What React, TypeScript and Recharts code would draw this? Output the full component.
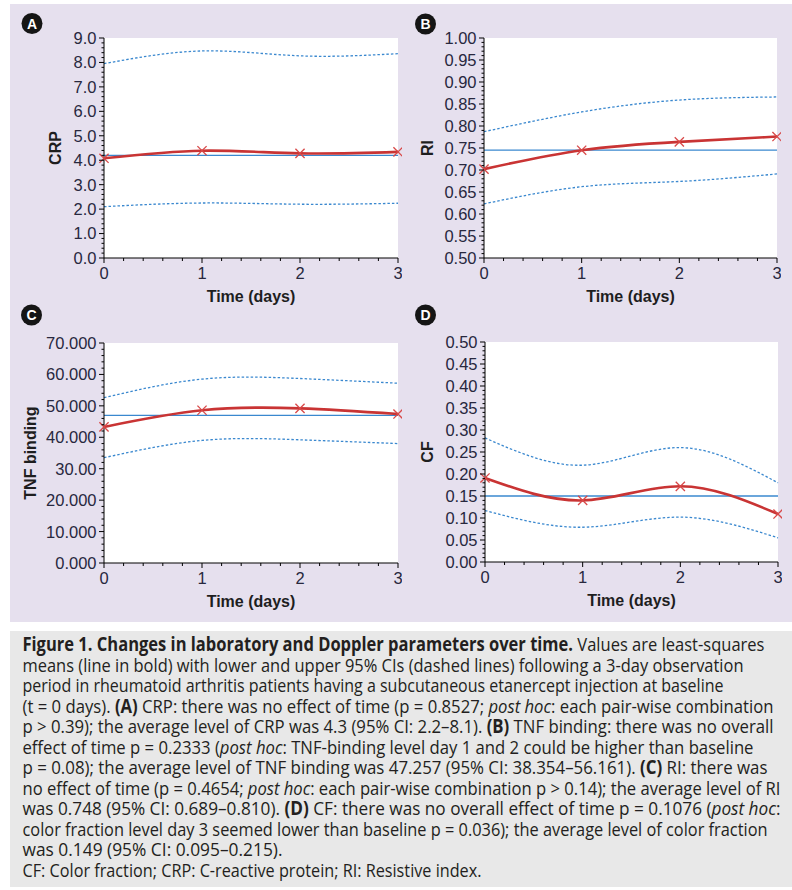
import React from 'react';
import { LineChart, Line, XAxis, YAxis, ReferenceLine, CartesianGrid, Label } from 'recharts';

// ---------- data ----------
const DAYS = [0, 1, 2, 3];
const X_MAJOR = [0, 1, 2, 3];
const X_LABELS = ['0', '1', '2', '3'];

const CRP_MEAN = [4.08, 4.39, 4.28, 4.34];
const CRP_UPPER = [7.95, 8.47, 8.27, 8.36];
const CRP_LOWER = [2.1, 2.25, 2.2, 2.24];
const CRP_AVG = 4.2;
const CRP_Y_MAJOR = [0, 1, 2, 3, 4, 5, 6, 7, 8, 9];
const CRP_Y_LABELS = ['0.0', '1.0', '2.0', '3.0', '4.0', '5.0', '6.0', '7.0', '8.0', '9.0'];

const RI_MEAN = [0.702, 0.745, 0.764, 0.776];
const RI_UPPER = [0.787, 0.832, 0.859, 0.866];
const RI_LOWER = [0.623, 0.662, 0.674, 0.691];
const RI_AVG = 0.745;
const RI_Y_MAJOR = [0.5, 0.55, 0.6, 0.65, 0.7, 0.75, 0.8, 0.85, 0.9, 0.95, 1.0];
const RI_Y_LABELS = ['0.50', '0.55', '0.60', '0.65', '0.70', '0.75', '0.80', '0.85', '0.90', '0.95', '1.00'];

const TNF_MEAN = [43.3, 48.6, 49.2, 47.4];
const TNF_UPPER = [52.6, 58.5, 58.7, 57.2];
const TNF_LOWER = [33.5, 39.0, 39.2, 38.0];
const TNF_AVG = 47.0;
const TNF_Y_MAJOR = [0, 10, 20, 30, 40, 50, 60, 70];
const TNF_Y_LABELS = ['0.000', '10.000', '20.000', '30.00', '40.000', '50.000', '60.000', '70.000'];

const CF_MEAN = [0.191, 0.14, 0.172, 0.109];
const CF_UPPER = [0.282, 0.22, 0.26, 0.18];
const CF_LOWER = [0.117, 0.079, 0.102, 0.055];
const CF_AVG = 0.15;
const CF_Y_MAJOR = [0, 0.05, 0.1, 0.15, 0.2, 0.25, 0.3, 0.35, 0.4, 0.45, 0.5];
const CF_Y_LABELS = ['0.00', '0.05', '0.10', '0.15', '0.20', '0.25', '0.30', '0.35', '0.40', '0.45', '0.50'];

// ---------- styling / layout ----------
const FONT = '"Liberation Sans", Arial, Helvetica, sans-serif';
const TICK_COLOR = '#28283e';
const RED = '#c93434';
const MARK_RED = '#d84848';
const BLUE = '#3a88cf';
const TICK_SIZE = 5;
const TICK_MARGIN = 2;
const PAD_L = 100;
const PAD_T = 30;
const PAD_R = 4;
const PAD_B = 50;

function minorTicks(min: number, max: number, step: number): number[] {
  const n = Math.round((max - min) / step);
  const out: number[] = [];
  for (let i = 0; i <= n; i++) out.push(+(min + i * step).toFixed(6));
  return out;
}

function findMajor(v: number, majors: number[]) {
  return majors.findIndex((m) => Math.abs(m - v) < 1e-6);
}

const XMark = (props: any) => {
  const { cx, cy } = props;
  if (cx == null || cy == null) return null;
  const s = 4.6;
  return (
    <g>
      <line x1={cx - s} y1={cy - s} x2={cx + s} y2={cy + s} stroke={MARK_RED} strokeWidth={1.3} />
      <line x1={cx - s} y1={cy + s} x2={cx + s} y2={cy - s} stroke={MARK_RED} strokeWidth={1.3} />
    </g>
  );
};

const makeYTick = (majors: number[], labels: string[]) => (props: any) => {
  const { x, y, payload } = props;
  const idx = findMajor(payload.value, majors);
  const axisX = x + TICK_SIZE + TICK_MARGIN;
  const major = idx >= 0;
  return (
    <g>
      <line x1={axisX - (major ? 5 : 2.5)} x2={axisX} y1={y} y2={y} stroke="#000" strokeWidth={1} />
      {major && (
        <text x={x - 0.5} y={y} dy="0.36em" textAnchor="end" fontSize={16.5} fontFamily={FONT} fill={TICK_COLOR}>
          {labels[idx]}
        </text>
      )}
    </g>
  );
};

const XTick = (props: any) => {
  const { x, y, payload } = props;
  const idx = findMajor(payload.value, X_MAJOR);
  const axisY = y - TICK_SIZE - TICK_MARGIN;
  const major = idx >= 0;
  return (
    <g>
      <line x1={x} x2={x} y1={axisY} y2={axisY + (major ? 5 : 3)} stroke="#000" strokeWidth={1} />
      {major && (
        <text x={x} y={axisY + 21} textAnchor="middle" fontSize={16.5} fontFamily={FONT} fill={TICK_COLOR}>
          {X_LABELS[idx]}
        </text>
      )}
    </g>
  );
};

type Panel = {
  letter: string;
  yLabel: string;
  mean: number[];
  upper: number[];
  lower: number[];
  avg: number;
  yMajor: number[];
  yLabels: string[];
  minorStep: number;
  L: number;
  R: number;
  T: number;
  B: number;
  yLabelX: number;
  cx: number;
  cy: number;
};

const PANELS: Panel[] = [
  { letter: 'A', yLabel: 'CRP', mean: CRP_MEAN, upper: CRP_UPPER, lower: CRP_LOWER, avg: CRP_AVG, yMajor: CRP_Y_MAJOR, yLabels: CRP_Y_LABELS, minorStep: 0.2, L: 104, R: 398, T: 38, B: 258, yLabelX: 55, cx: 32, cy: 23.5 },
  { letter: 'B', yLabel: 'RI', mean: RI_MEAN, upper: RI_UPPER, lower: RI_LOWER, avg: RI_AVG, yMajor: RI_Y_MAJOR, yLabels: RI_Y_LABELS, minorStep: 0.01, L: 484, R: 777, T: 38, B: 258, yLabelX: 427, cx: 425.5, cy: 24 },
  { letter: 'C', yLabel: 'TNF binding', mean: TNF_MEAN, upper: TNF_UPPER, lower: TNF_LOWER, avg: TNF_AVG, yMajor: TNF_Y_MAJOR, yLabels: TNF_Y_LABELS, minorStep: 2, L: 104, R: 398, T: 343, B: 563, yLabelX: 30.5, cx: 31.5, cy: 315 },
  { letter: 'D', yLabel: 'CF', mean: CF_MEAN, upper: CF_UPPER, lower: CF_LOWER, avg: CF_AVG, yMajor: CF_Y_MAJOR, yLabels: CF_Y_LABELS, minorStep: 0.01, L: 485, R: 778, T: 342, B: 562, yLabelX: 427, cx: 425.5, cy: 315 },
];

const X_TICKS = minorTicks(0, 3, 0.2);

const PanelChart = ({ p }: { p: Panel }) => {
  const data = DAYS.map((d, i) => ({ day: d, mean: p.mean[i], upper: p.upper[i], lower: p.lower[i] }));
  const w = p.R - p.L + PAD_L + PAD_R;
  const h = p.B - p.T + PAD_T + PAD_B;
  const yMin = p.yMajor[0];
  const yMax = p.yMajor[p.yMajor.length - 1];
  const yTicks = minorTicks(yMin, yMax, p.minorStep);
  const plotW = p.R - p.L;
  const plotH = p.B - p.T;
  const ylx = PAD_L - (p.L - p.yLabelX);
  const yly = PAD_T + plotH / 2;
  return (
    <div style={{ position: 'absolute', left: p.L - PAD_L, top: p.T - PAD_T, width: w, height: h }}>
      <LineChart width={w} height={h} data={data} margin={{ top: PAD_T, right: PAD_R, left: 0, bottom: 0 }}>
        <CartesianGrid horizontal={false} vertical={false} stroke="none" fill="#ffffff" />
        <XAxis
          dataKey="day"
          type="number"
          domain={[0, 3]}
          ticks={X_TICKS}
          interval={0}
          height={PAD_B}
          tickSize={TICK_SIZE}
          tickMargin={TICK_MARGIN}
          tickLine={false}
          axisLine={{ stroke: '#000', strokeWidth: 1 }}
          tick={XTick}
          allowDecimals
        >
          <Label
            content={() => (
              <text x={PAD_L + plotW / 2} y={PAD_T + plotH + 44} textAnchor="middle" fontSize={16} fontWeight={700} fontFamily={FONT} fill="#1e1e1e">
                Time (days)
              </text>
            )}
          />
        </XAxis>
        <YAxis
          type="number"
          domain={[yMin, yMax]}
          ticks={yTicks}
          interval={0}
          width={PAD_L}
          tickSize={TICK_SIZE}
          tickMargin={TICK_MARGIN}
          tickLine={false}
          axisLine={{ stroke: '#000', strokeWidth: 1 }}
          tick={makeYTick(p.yMajor, p.yLabels)}
          allowDataOverflow
        >
          <Label
            content={() => (
              <text
                x={ylx}
                y={yly}
                dy="0.36em"
                transform={`rotate(-90 ${ylx} ${yly})`}
                textAnchor="middle"
                fontSize={16}
                fontWeight={700}
                fontFamily={FONT}
                fill="#1e1e1e"
              >
                {p.yLabel}
              </text>
            )}
          />
        </YAxis>
        <ReferenceLine y={p.avg} stroke={BLUE} strokeWidth={1.3} ifOverflow="extendDomain" />
        <Line type="natural" dataKey="upper" stroke={BLUE} strokeWidth={1.3} strokeDasharray="2.5 2" dot={false} isAnimationActive={false} />
        <Line type="natural" dataKey="lower" stroke={BLUE} strokeWidth={1.3} strokeDasharray="2.5 2" dot={false} isAnimationActive={false} />
        <Line type="natural" dataKey="mean" stroke={RED} strokeWidth={2.6} dot={<XMark />} activeDot={false} isAnimationActive={false} />
      </LineChart>
    </div>
  );
};

// ---------- caption ----------
type Seg = { t: string; b?: boolean; i?: boolean };
const CAPTION_LINES: Seg[][] = [
  [{ t: 'Figure 1. Changes in laboratory and Doppler parameters over time.', b: true }, { t: ' Values are least-squares' }],
  [{ t: 'means (line in bold) with lower and upper 95% CIs (dashed lines) following a 3-day observation' }],
  [{ t: 'period in rheumatoid arthritis patients having a subcutaneous etanercept injection at baseline' }],
  [{ t: '(t = 0 days). ' }, { t: '(A)', b: true }, { t: ' CRP: there was no effect of time (p = 0.8527; ' }, { t: 'post hoc', i: true }, { t: ': each pair-wise combination' }],
  [{ t: 'p > 0.39); the average level of CRP was 4.3 (95% CI: 2.2–8.1). ' }, { t: '(B)', b: true }, { t: ' TNF binding: there was no overall' }],
  [{ t: 'effect of time p = 0.2333 (' }, { t: 'post hoc', i: true }, { t: ': TNF-binding level day 1 and 2 could be higher than baseline' }],
  [{ t: 'p = 0.08); the average level of TNF binding was 47.257 (95% CI: 38.354–56.161). ' }, { t: '(C)', b: true }, { t: ' RI: there was' }],
  [{ t: 'no effect of time (p = 0.4654; ' }, { t: 'post hoc', i: true }, { t: ': each pair-wise combination p > 0.14); the average level of RI' }],
  [{ t: 'was 0.748 (95% CI: 0.689–0.810). ' }, { t: '(D)', b: true }, { t: ' CF: there was no overall effect of time p = 0.1076 (' }, { t: 'post hoc', i: true }, { t: ':' }],
  [{ t: 'color fraction level day 3 seemed lower than baseline p = 0.036); the average level of color fraction' }],
  [{ t: 'was 0.149 (95% CI: 0.095–0.215).' }],
  [{ t: 'CF: Color fraction; CRP: C-reactive protein; RI: Resistive index.' }],
];
const CAPTION_WIDTHS = [742, 721, 701, 751, 751, 731, 745, 758, 758, 745, 260, 459];

const CAP_FONT = '"Open Sans", "Noto Sans", sans-serif';

export default function App() {
  return (
    <div style={{ position: 'absolute', left: 0, top: 0, width: 792, height: 890, background: '#ffffff', overflow: 'hidden' }}>
      <div style={{ position: 'absolute', left: 10, top: 4, width: 782, height: 618, background: '#e6e0ee' }} />
      <div style={{ position: 'absolute', left: 10, top: 631, width: 782, height: 256, background: '#e8e8e8' }} />
      <svg style={{ position: 'absolute', left: 0, top: 0 }} width={792} height={890}>
        {PANELS.map((p) => (
          <g key={p.letter}>
            <circle cx={p.cx} cy={p.cy} r={10.5} fill="#151515" />
            <text x={p.cx} y={p.cy} dy="0.36em" textAnchor="middle" fontSize={14} fontWeight={700} fontFamily={FONT} fill="#ffffff">
              {p.letter}
            </text>
          </g>
        ))}
        {CAPTION_LINES.map((line, li) => (
          <text
            key={li}
            x={22.5}
            y={651 + li * 20.5}
            fontSize={19}
            fontFamily={CAP_FONT}
            fill="#231f20"
            textLength={CAPTION_WIDTHS[li]}
            lengthAdjust="spacingAndGlyphs"
          >
            {line.map((s, si) => (
              <tspan key={si} fontWeight={s.b ? 700 : 400} fontStyle={s.i ? 'italic' : 'normal'}>
                {s.t}
              </tspan>
            ))}
          </text>
        ))}
      </svg>
      {PANELS.map((p) => (
        <PanelChart key={p.letter} p={p} />
      ))}
    </div>
  );
}
